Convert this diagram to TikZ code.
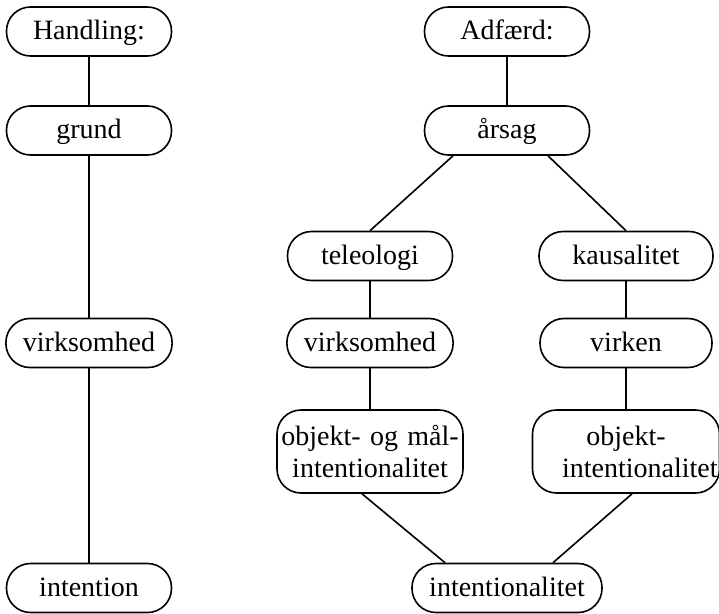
\documentclass[tikz,border=0pt]{standalone}
\usepackage{fontspec}
\setmainfont{Liberation Serif}
\tikzset{boks/.style = {draw, rounded corners=24pt, minimum height=49pt,
                        font=\fontsize{28}{32}\selectfont},
         enlinje/.style = {boks, minimum width=165pt, inner xsep=17pt, text height=20pt, text depth=4pt},
         tolinjer/.style = {boks, align=center, inner xsep=3pt, minimum height=83pt}}

\begin{document}
\begin{tikzpicture}[x=1pt, y=-1pt, line width=1.6pt]
    \useasboundingbox (0,0) rectangle (719,613);
    \node [enlinje] (handling) at (89,31.5) {Handling:};
    \node [enlinje] (grund) at (89,130.5) {grund};
    \node [enlinje] (virksomhedA) at (89,343) {virksomhed};
    \node [enlinje] (intention) at (89,588) {intention};
    \node [enlinje] (adfaerd) at (507,31.5) {Adfærd:};
    \node [enlinje] (aarsag) at (507,130.5) {årsag};
    \node [enlinje] (teleologi) at (370,256) {teleologi};
    \node [enlinje, minimum width=174pt] (kausalitet) at (626,256) {kausalitet};
    \node [enlinje] (virksomhedB) at (370,343) {virksomhed};
    \node [enlinje, minimum width=172pt] (virken) at (626,343) {virken};
    \node [tolinjer, text width=180pt, minimum width=186pt] (maal) at (370,451.5) {objekt- og mål-\\\mbox{intentionalitet}};
    \node [tolinjer, text width=128pt, minimum width=187pt] (objekt) at (626,451.5) {objekt-\\\mbox{intentionalitet}};
    \node [enlinje, minimum width=190pt] (intentionalitet) at (507,588) {intentionalitet};
    \draw (handling) -- (grund);
    \draw (grund) -- (virksomhedA);
    \draw (virksomhedA) -- (intention);
    \draw (adfaerd) -- (aarsag);
    \draw ([xshift=-54pt]aarsag.south) -- (teleologi.north);
    \draw ([xshift=41pt]aarsag.south) -- (kausalitet.north);
    \draw (teleologi) -- (virksomhedB);
    \draw (virksomhedB) -- (maal);
    \draw (kausalitet) -- (virken);
    \draw (virken) -- (objekt);
    \draw ([xshift=-8pt]maal.south) -- ([xshift=-62pt]intentionalitet.north);
    \draw ([xshift=6pt]objekt.south) -- ([xshift=46pt]intentionalitet.north);
\end{tikzpicture}
\end{document}
